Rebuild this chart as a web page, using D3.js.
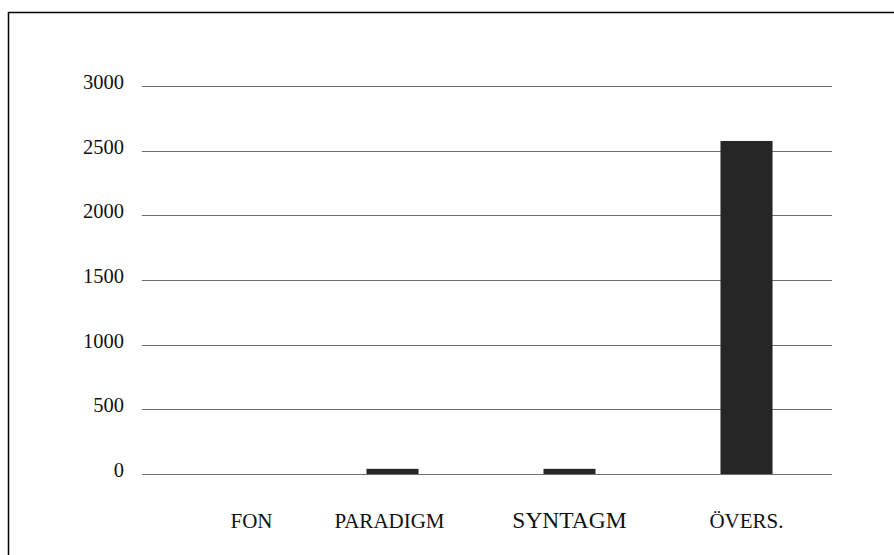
<!DOCTYPE html>
<html>
<head>
<meta charset="utf-8">
<script src="https://cdn.jsdelivr.net/npm/d3@7"></script>
<style>
  body { margin: 0; background: #fff; }
  text { font-family: "Liberation Serif", "Times New Roman", serif; fill: #111; }
</style>
</head>
<body>
<script>
const categories = ['FON', 'PARADIGM', 'SYNTAGM', 'ÖVERS.']
const values = [0, 40, 40, 2575]
const yTicks = [0, 500, 1000, 1500, 2000, 2500, 3000]

const W = 894, H = 555

let svg = d3.select('body')
  .append('svg')
  .attr('width', W)
  .attr('height', H)

// frame (runs off the right and bottom of the picture)
svg.append('path')
  .attr('d', `M8.5,${H} V12.5 H${W}`)
  .attr('fill', 'none')
  .attr('stroke', '#000')
  .attr('stroke-width', 1.5)

let x = d3.scaleBand()
  .domain(categories)
  .range([127, 835])
  .paddingInner(0.706)
  .paddingOuter(0.353)

let y = d3.scaleLinear()
  .domain([0, 3000])
  .range([474, 86])

// grid lines
svg.append('g')
  .selectAll('line')
  .data(yTicks)
  .enter()
  .append('line')
  .attr('x1', 142)
  .attr('x2', 832)
  .attr('y1', d => Math.round(y(d)) + 0.5)
  .attr('y2', d => Math.round(y(d)) + 0.5)
  .attr('stroke', '#6e6e6e')
  .attr('stroke-width', 1)

// y axis labels
let yAxis = d3.axisLeft(y).tickValues(yTicks).tickFormat(d3.format('d')).tickSize(0).tickPadding(0)
svg.append('g')
  .attr('transform', 'translate(124,-4)')
  .call(yAxis)
  .call(g => g.select('.domain').remove())
  .call(g => g.selectAll('text')
    .attr('font-size', 20.5)
    .attr('font-family', '"Liberation Serif", serif')
    .attr('fill', '#111'))

// bars
svg.append('g')
  .selectAll('rect')
  .data(values)
  .enter()
  .append('rect')
  .attr('x', (d, i) => x(categories[i]))
  .attr('width', x.bandwidth())
  .attr('y', d => y(d))
  .attr('height', d => y(0) - y(d))
  .attr('fill', '#262626')

// category labels; the first label sits a bit right of its bar in the original
svg.append('g')
  .selectAll('text')
  .data(categories)
  .enter()
  .append('text')
  .attr('x', (d, i) => x(d) + x.bandwidth() / 2 + (i == 0 ? 36 : (i == 1 ? -3 : 0)))
  .attr('y', 528)
  .attr('text-anchor', 'middle')
  .attr('font-size', (d, i) => i == 2 ? 23.5 : 21)
  .text(d => d)
</script>
</body>
</html>
